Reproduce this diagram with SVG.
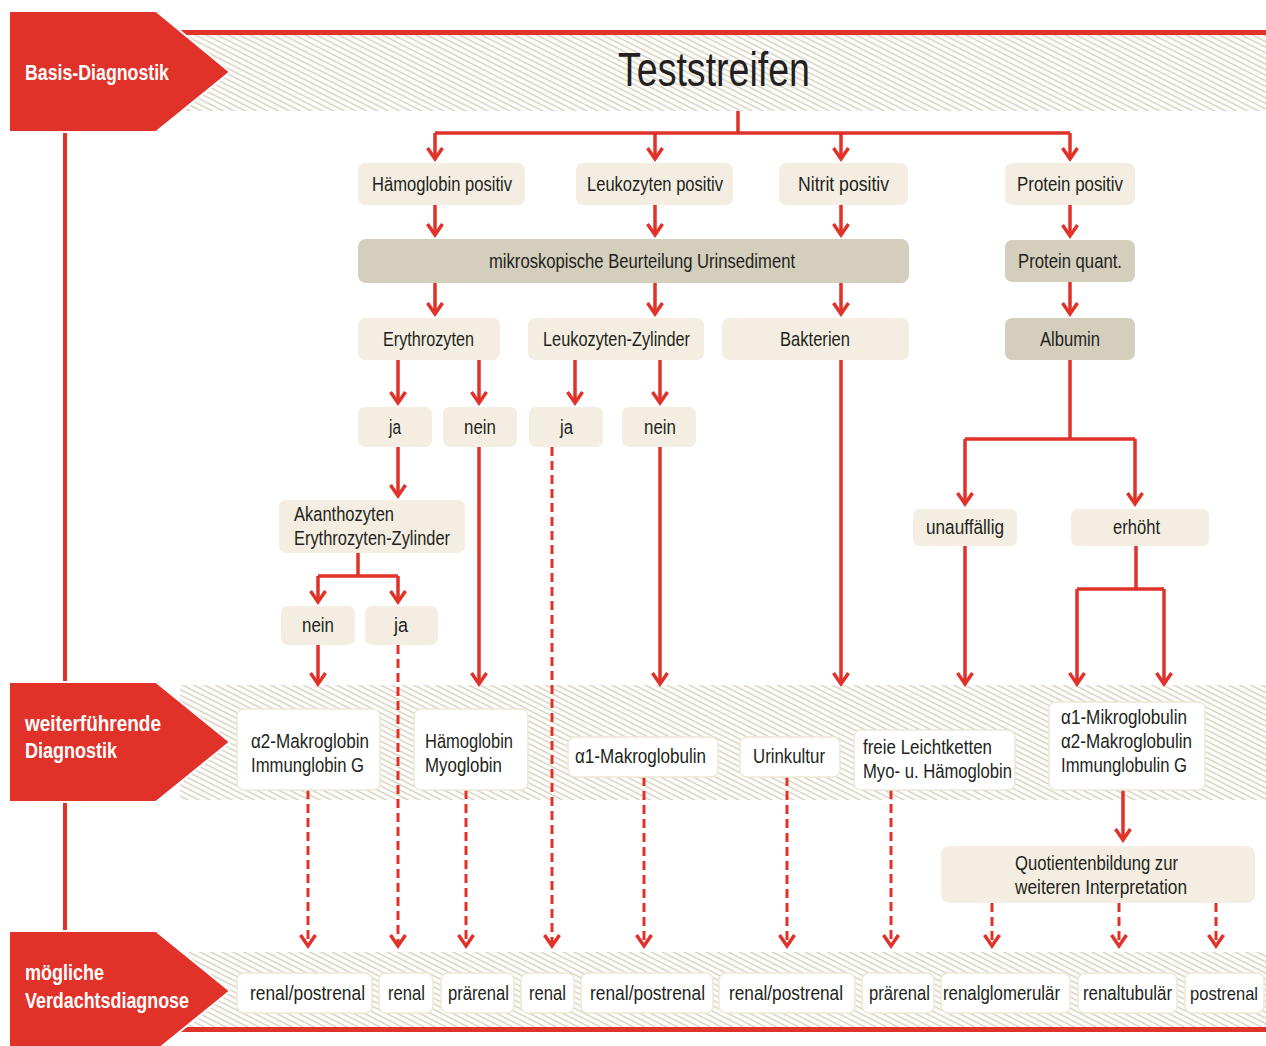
<svg xmlns="http://www.w3.org/2000/svg" width="1266" height="1046" viewBox="0 0 1266 1046">
<defs>
<pattern id="hatch" patternUnits="userSpaceOnUse" width="10" height="5" patternTransform="rotate(27)">
<rect width="10" height="5" fill="#ffffff"/>
<line x1="0" y1="2.5" x2="10" y2="2.5" stroke="#d6cfbc" stroke-width="1.5"/>
</pattern>
<marker id="ah" markerUnits="userSpaceOnUse" viewBox="-14 -10 18 20" markerWidth="18" markerHeight="20" refX="0" refY="0" orient="auto" overflow="visible">
<path d="M-11,-7.5 L0,0 L-11,7.5" fill="none" stroke="#e1322a" stroke-width="3.5" stroke-linejoin="miter"/>
</marker>
</defs>
<style>
.box{fill:#f3eee1}
.dark{fill:#d4cebc}
.wbox{fill:#ffffff;stroke:#efe8d6;stroke-width:1.5}
.t{font-family:"Liberation Sans",Arial,sans-serif;font-size:20.5px;fill:#231f20}
.lab{font-family:"Liberation Sans",Arial,sans-serif;font-size:22px;font-weight:bold;fill:#ffffff}
.ln{stroke:#e1322a;stroke-width:3.5;fill:none}
.ar{marker-end:url(#ah)}
.ds{stroke-dasharray:9 5;stroke-width:3}
.red{fill:#e1322a}
</style>
<rect width="1266" height="1046" fill="#ffffff"/>

<g id="bands">
<rect x="180" y="35" width="1086" height="76" fill="url(#hatch)"/>
<rect x="180" y="30" width="1086" height="5" class="red"/>
<rect x="180" y="685" width="1086" height="115" fill="url(#hatch)"/>
<rect x="180" y="952" width="1086" height="75" fill="url(#hatch)"/>
<rect x="180" y="1027" width="1086" height="5" class="red"/>
<rect x="63" y="130" width="4" height="804" class="red"/>
</g>

<g id="band-basis">
<path d="M9,11 H156 L230,72 L156,132 H9 Z" class="red" stroke="#ffffff" stroke-width="2"/>
<text x="25" y="80" class="lab" textLength="144" lengthAdjust="spacingAndGlyphs">Basis-Diagnostik</text>
</g>
<g id="band-weiter">
<path d="M9,682 H156 L230,742 L156,802 H9 Z" class="red" stroke="#ffffff" stroke-width="2"/>
<text x="25" y="731" class="lab" textLength="136" lengthAdjust="spacingAndGlyphs">weiterführende</text>
<text x="25" y="758" class="lab" textLength="92" lengthAdjust="spacingAndGlyphs">Diagnostik</text>
</g>
<g id="band-moeglich">
<path d="M9,931 H156 L230,991 L156,1051 H9 Z" class="red" stroke="#ffffff" stroke-width="2"/>
<text x="25" y="980" class="lab" textLength="79" lengthAdjust="spacingAndGlyphs">mögliche</text>
<text x="25" y="1008" class="lab" textLength="164" lengthAdjust="spacingAndGlyphs">Verdachtsdiagnose</text>
</g>

<g id="title">
<text x="618" y="86" class="t" style="font-size:49px" textLength="192" lengthAdjust="spacingAndGlyphs">Teststreifen</text>
</g>

<g id="connectors">
<path class="ln" d="M738,111 V133 M435,133 H1070"/>
<path class="ln ar" d="M435,133 V159"/>
<path class="ln ar" d="M655,133 V159"/>
<path class="ln ar" d="M841,133 V159"/>
<path class="ln ar" d="M1070,133 V159"/>
<path class="ln ar" d="M435,205 V235"/>
<path class="ln ar" d="M655,205 V235"/>
<path class="ln ar" d="M841,205 V235"/>
<path class="ln ar" d="M1070,205 V236"/>
<path class="ln ar" d="M435,283 V314"/>
<path class="ln ar" d="M655,283 V314"/>
<path class="ln ar" d="M841,283 V314"/>
<path class="ln ar" d="M1070,282 V314"/>
<path class="ln ar" d="M398,360 V403"/>
<path class="ln ar" d="M479,360 V403"/>
<path class="ln ar" d="M575,360 V403"/>
<path class="ln ar" d="M660,360 V403"/>
<path class="ln ar" d="M841,360 V684"/>
<path class="ln" d="M1070,360 V439 M965,439 H1135"/>
<path class="ln ar" d="M965,439 V504"/>
<path class="ln ar" d="M1135,439 V504"/>
<path class="ln ar" d="M398,447 V496"/>
<path class="ln ar" d="M479,447 V684"/>
<path class="ln ds ar" d="M552,447 V946"/>
<path class="ln ar" d="M660,447 V684"/>
<path class="ln" d="M358,553 V576 M318,576 H398"/>
<path class="ln ar" d="M318,576 V602"/>
<path class="ln ar" d="M398,576 V602"/>
<path class="ln ar" d="M318,645 V684"/>
<path class="ln ds ar" d="M398,645 V946"/>
<path class="ln ar" d="M965,546 V684"/>
<path class="ln" d="M1136,546 V589 M1077,589 H1164"/>
<path class="ln ar" d="M1077,589 V684"/>
<path class="ln ar" d="M1164,589 V684"/>
<path class="ln ds ar" d="M308,790 V946"/>
<path class="ln ds ar" d="M466,790 V946"/>
<path class="ln ds ar" d="M644,777 V946"/>
<path class="ln ds ar" d="M787,777 V946"/>
<path class="ln ds ar" d="M891,790 V946"/>
<path class="ln ar" d="M1123,790 V840"/>
<path class="ln ds ar" d="M992,903 V946"/>
<path class="ln ds ar" d="M1119,903 V946"/>
<path class="ln ds ar" d="M1216,903 V946"/>
</g>

<g id="n-haemoglobin-positiv"><rect x="358" y="163" width="167" height="42" rx="7" class="box"/><text x="372" y="191" class="t" textLength="140" lengthAdjust="spacingAndGlyphs">Hämoglobin positiv</text></g>
<g id="n-leukozyten-positiv"><rect x="576" y="163" width="157" height="42" rx="7" class="box"/><text x="587" y="191" class="t" textLength="136" lengthAdjust="spacingAndGlyphs">Leukozyten positiv</text></g>
<g id="n-nitrit-positiv"><rect x="779" y="163" width="129" height="42" rx="7" class="box"/><text x="798" y="191" class="t" textLength="91" lengthAdjust="spacingAndGlyphs">Nitrit positiv</text></g>
<g id="n-protein-positiv"><rect x="1005" y="163" width="130" height="42" rx="7" class="box"/><text x="1017" y="191" class="t" textLength="106" lengthAdjust="spacingAndGlyphs">Protein positiv</text></g>

<g id="n-mikroskopie"><rect x="358" y="239" width="551" height="44" rx="8" class="dark"/><text x="489" y="268" class="t" textLength="306" lengthAdjust="spacingAndGlyphs">mikroskopische Beurteilung Urinsediment</text></g>
<g id="n-protein-quant"><rect x="1005" y="240" width="130" height="42" rx="7" class="dark"/><text x="1018" y="268" class="t" textLength="104" lengthAdjust="spacingAndGlyphs">Protein quant.</text></g>

<g id="n-erythrozyten"><rect x="358" y="318" width="142" height="42" rx="7" class="box"/><text x="383" y="346" class="t" textLength="91" lengthAdjust="spacingAndGlyphs">Erythrozyten</text></g>
<g id="n-leukozyten-zylinder"><rect x="528" y="318" width="176" height="42" rx="7" class="box"/><text x="543" y="346" class="t" textLength="147" lengthAdjust="spacingAndGlyphs">Leukozyten-Zylinder</text></g>
<g id="n-bakterien"><rect x="722" y="318" width="187" height="42" rx="7" class="box"/><text x="780" y="346" class="t" textLength="70" lengthAdjust="spacingAndGlyphs">Bakterien</text></g>
<g id="n-albumin"><rect x="1005" y="318" width="130" height="42" rx="7" class="dark"/><text x="1040" y="346" class="t" textLength="60" lengthAdjust="spacingAndGlyphs">Albumin</text></g>

<g id="n-ery-ja"><rect x="358" y="407" width="74" height="40" rx="7" class="box"/><text x="389" y="434" class="t" textLength="12" lengthAdjust="spacingAndGlyphs">ja</text></g>
<g id="n-ery-nein"><rect x="443" y="407" width="74" height="40" rx="7" class="box"/><text x="464" y="434" class="t" textLength="32" lengthAdjust="spacingAndGlyphs">nein</text></g>
<g id="n-leu-ja"><rect x="529" y="407" width="74" height="40" rx="7" class="box"/><text x="560" y="434" class="t" textLength="13" lengthAdjust="spacingAndGlyphs">ja</text></g>
<g id="n-leu-nein"><rect x="622" y="407" width="74" height="40" rx="7" class="box"/><text x="644" y="434" class="t" textLength="32" lengthAdjust="spacingAndGlyphs">nein</text></g>

<g id="n-akanthozyten"><rect x="279" y="500" width="186" height="53" rx="7" class="box"/><text x="294" y="521" class="t" textLength="100" lengthAdjust="spacingAndGlyphs">Akanthozyten</text><text x="294" y="545" class="t" textLength="156" lengthAdjust="spacingAndGlyphs">Erythrozyten-Zylinder</text></g>
<g id="n-aka-nein"><rect x="281" y="606" width="74" height="39" rx="7" class="box"/><text x="302" y="632" class="t" textLength="32" lengthAdjust="spacingAndGlyphs">nein</text></g>
<g id="n-aka-ja"><rect x="365" y="606" width="73" height="39" rx="7" class="box"/><text x="394" y="632" class="t" textLength="14" lengthAdjust="spacingAndGlyphs">ja</text></g>

<g id="n-unauffaellig"><rect x="913" y="509" width="104" height="37" rx="7" class="box"/><text x="926" y="534" class="t" textLength="78" lengthAdjust="spacingAndGlyphs">unauffällig</text></g>
<g id="n-erhoeht"><rect x="1071" y="509" width="138" height="37" rx="7" class="box"/><text x="1113" y="534" class="t" textLength="47" lengthAdjust="spacingAndGlyphs">erhöht</text></g>

<g id="n-a2-makroglobin"><rect x="237" y="709" width="143" height="81" rx="7" class="wbox"/><text x="251" y="748" class="t" textLength="118" lengthAdjust="spacingAndGlyphs">α2-Makroglobin</text><text x="251" y="772" class="t" textLength="113" lengthAdjust="spacingAndGlyphs">Immunglobin G</text></g>
<g id="n-haemo-myo"><rect x="414" y="709" width="114" height="81" rx="7" class="wbox"/><text x="425" y="748" class="t" textLength="88" lengthAdjust="spacingAndGlyphs">Hämoglobin</text><text x="425" y="772" class="t" textLength="77" lengthAdjust="spacingAndGlyphs">Myoglobin</text></g>
<g id="n-a1-makroglobulin"><rect x="568" y="737" width="150" height="40" rx="7" class="wbox"/><text x="575" y="763" class="t" textLength="131" lengthAdjust="spacingAndGlyphs">α1-Makroglobulin</text></g>
<g id="n-urinkultur"><rect x="740" y="737" width="100" height="40" rx="7" class="wbox"/><text x="753" y="763" class="t" textLength="72" lengthAdjust="spacingAndGlyphs">Urinkultur</text></g>
<g id="n-leichtketten"><rect x="854" y="730" width="161" height="60" rx="7" class="wbox"/><text x="863" y="754" class="t" textLength="129" lengthAdjust="spacingAndGlyphs">freie Leichtketten</text><text x="863" y="778" class="t" textLength="149" lengthAdjust="spacingAndGlyphs">Myo- u. Hämoglobin</text></g>
<g id="n-mikroglobulin"><rect x="1049" y="702" width="156" height="88" rx="7" class="wbox"/><text x="1061" y="724" class="t" textLength="126" lengthAdjust="spacingAndGlyphs">α1-Mikroglobulin</text><text x="1061" y="748" class="t" textLength="131" lengthAdjust="spacingAndGlyphs">α2-Makroglobulin</text><text x="1061" y="772" class="t" textLength="126" lengthAdjust="spacingAndGlyphs">Immunglobulin G</text></g>

<g id="n-quotient"><rect x="941" y="846" width="314" height="57" rx="8" class="box"/><text x="1015" y="870" class="t" textLength="163" lengthAdjust="spacingAndGlyphs">Quotientenbildung zur</text><text x="1015" y="894" class="t" textLength="172" lengthAdjust="spacingAndGlyphs">weiteren Interpretation</text></g>

<g id="n-d1"><rect x="237" y="973" width="135" height="40" rx="7" class="wbox"/><text x="250" y="1000" class="t" textLength="115" lengthAdjust="spacingAndGlyphs">renal/postrenal</text></g>
<g id="n-d2"><rect x="379" y="973" width="54" height="40" rx="7" class="wbox"/><text x="388" y="1000" class="t" textLength="37" lengthAdjust="spacingAndGlyphs">renal</text></g>
<g id="n-d3"><rect x="441" y="973" width="73" height="40" rx="7" class="wbox"/><text x="448" y="1000" class="t" textLength="61" lengthAdjust="spacingAndGlyphs">prärenal</text></g>
<g id="n-d4"><rect x="521" y="973" width="53" height="40" rx="7" class="wbox"/><text x="529" y="1000" class="t" textLength="37" lengthAdjust="spacingAndGlyphs">renal</text></g>
<g id="n-d5"><rect x="581" y="973" width="132" height="40" rx="7" class="wbox"/><text x="590" y="1000" class="t" textLength="115" lengthAdjust="spacingAndGlyphs">renal/postrenal</text></g>
<g id="n-d6"><rect x="719" y="973" width="136" height="40" rx="7" class="wbox"/><text x="729" y="1000" class="t" textLength="114" lengthAdjust="spacingAndGlyphs">renal/postrenal</text></g>
<g id="n-d7"><rect x="862" y="973" width="72" height="40" rx="7" class="wbox"/><text x="869" y="1000" class="t" textLength="61" lengthAdjust="spacingAndGlyphs">prärenal</text></g>
<g id="n-d8"><rect x="941" y="973" width="129" height="40" rx="7" class="wbox"/><text x="943" y="1000" class="t" textLength="117" lengthAdjust="spacingAndGlyphs">renalglomerulär</text></g>
<g id="n-d9"><rect x="1078" y="973" width="99" height="40" rx="7" class="wbox"/><text x="1083" y="1000" class="t" textLength="89" lengthAdjust="spacingAndGlyphs">renaltubulär</text></g>
<g id="n-d10"><rect x="1185" y="973" width="79" height="40" rx="7" class="wbox"/><text x="1224" y="1000" class="t" style="font-size:19px" text-anchor="middle" textLength="68" lengthAdjust="spacingAndGlyphs">postrenal</text></g>
</svg>
